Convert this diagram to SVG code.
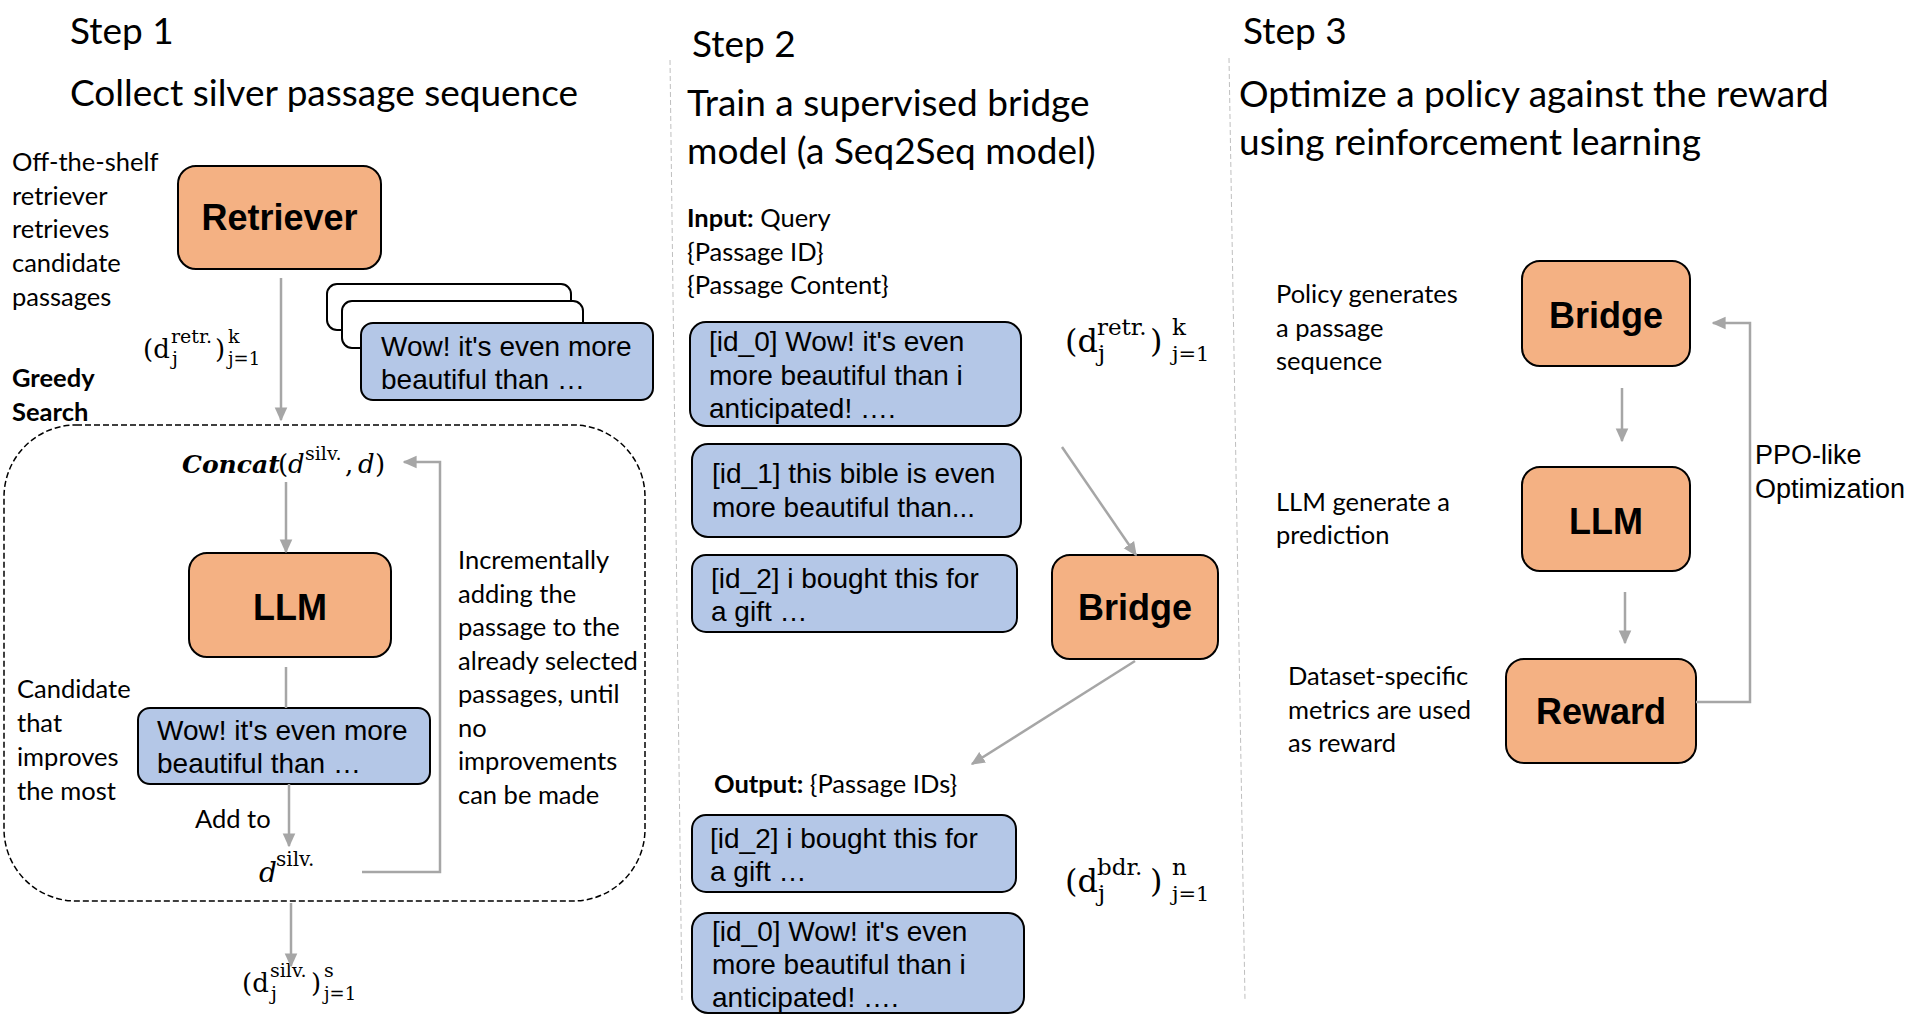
<svg xmlns="http://www.w3.org/2000/svg" width="1914" height="1020" viewBox="0 0 1914 1020">
<defs>
<marker id="ah" markerUnits="userSpaceOnUse" markerWidth="14" markerHeight="14" viewBox="0 0 10 10" refX="9" refY="5" orient="auto">
<path d="M0,0.5 L10,5 L0,9.5 z" fill="#A6A6A6"/>
</marker>
<style>
.cal{font-family:Lato,"Open Sans","Liberation Sans",sans-serif;fill:#000}
.h{font-size:37px}
.s{font-size:25.5px}
.b{font-weight:bold}
.ar{font-family:"Liberation Sans",Arial,sans-serif;fill:#000}
.bt{font-size:28px}
.lbl{font-family:"Liberation Sans",Arial,sans-serif;font-weight:bold;font-size:36px;text-anchor:middle}
.m{font-family:"DejaVu Serif","Liberation Serif",serif;fill:#000}
.org{fill:#F4B183;stroke:#000;stroke-width:2}
.blu{fill:#B4C7E7;stroke:#000;stroke-width:2}
.wht{fill:#fff;stroke:#000;stroke-width:2}
.con{fill:none;stroke:#A6A6A6;stroke-width:2.5}
.div{fill:none;stroke:#BFBFBF;stroke-width:1;stroke-dasharray:5 3}
</style>
</defs>
<rect width="1914" height="1020" fill="#fff"/>

<!-- dividers -->
<g id="dividers">
<line class="div" x1="670" y1="60" x2="682" y2="1000"/>
<line class="div" x1="1229" y1="58" x2="1245" y2="1000"/>
</g>

<!-- Step 1 headings and notes -->
<g id="step1-text">
<text class="cal h" x="70" y="44">Step 1</text>
<text class="cal h" x="70" y="106">Collect silver passage sequence</text>
<text class="cal s" x="12" y="171">Off-the-shelf</text>
<text class="cal s" x="12" y="205">retriever</text>
<text class="cal s" x="12" y="238">retrieves</text>
<text class="cal s" x="12" y="272">candidate</text>
<text class="cal s" x="12" y="306">passages</text>
<text class="cal s b" x="12" y="387">Greedy</text>
<text class="cal s b" x="12" y="421">Search</text>
<text class="cal s" x="17" y="698">Candidate</text>
<text class="cal s" x="17" y="732">that</text>
<text class="cal s" x="17" y="766">improves</text>
<text class="cal s" x="17" y="800">the most</text>
<text class="cal s" x="195" y="828">Add to</text>
<text class="cal s" x="458" y="569">Incrementally</text>
<text class="cal s" x="458" y="603">adding the</text>
<text class="cal s" x="458" y="636">passage to the</text>
<text class="cal s" x="458" y="670">already selected</text>
<text class="cal s" x="458" y="703">passages, until</text>
<text class="cal s" x="458" y="737">no</text>
<text class="cal s" x="458" y="770">improvements</text>
<text class="cal s" x="458" y="804">can be made</text>
</g>

<!-- math labels step 1 -->
<g id="math1">
<text class="m" font-size="26" x="143" y="358">(d</text>
<text class="m" font-size="19" x="171" y="343">retr.</text>
<text class="m" font-size="19" x="172" y="365">j</text>
<text class="m" font-size="26" x="215" y="358">)</text>
<text class="m" font-size="19" x="228" y="343">k</text>
<text class="m" font-size="18" x="228" y="365">j=1</text>

<text class="m" font-size="25" font-weight="bold" font-style="italic" x="182" y="473">Concat</text>
<text class="m" font-size="26" x="278" y="473">(</text>
<text class="m" font-size="26" font-style="italic" x="288" y="473">d</text>
<text class="m" font-size="19" x="305" y="460">silv.</text>
<text class="m" font-size="26" x="345" y="473">,</text>
<text class="m" font-size="26" font-style="italic" x="358" y="473">d</text>
<text class="m" font-size="26" x="375" y="473">)</text>

<text class="m" font-size="28" font-style="italic" x="259" y="882">d</text>
<text class="m" font-size="20" x="276" y="866">silv.</text>

<text class="m" font-size="26" x="242" y="992">(d</text>
<text class="m" font-size="19" x="270" y="977">silv.</text>
<text class="m" font-size="19" x="271" y="1000">j</text>
<text class="m" font-size="26" x="311" y="992">)</text>
<text class="m" font-size="19" x="324" y="977">s</text>
<text class="m" font-size="18" x="324" y="1000">j=1</text>
</g>

<!-- dashed loop container -->
<g id="greedy-loop">
<rect x="4" y="425" width="641" height="476" rx="72" ry="72" fill="none" stroke="#000" stroke-width="1.5" stroke-dasharray="6 3"/>
</g>

<!-- Step 1 nodes -->
<g id="retriever">
<rect class="org" x="178" y="166" width="203" height="103" rx="18"/>
<text class="lbl" x="279.5" y="230">Retriever</text>
</g>
<g id="passage-stack">
<rect class="wht" x="327" y="284" width="244" height="46" rx="10"/>
<rect class="wht" x="342" y="301" width="241" height="47" rx="10"/>
<rect class="blu" x="361" y="323" width="292" height="77" rx="12"/>
<text class="ar bt" x="381" y="356">Wow! it's even more</text>
<text class="ar bt" x="381" y="389">beautiful than …</text>
</g>
<g id="llm1">
<rect class="org" x="189" y="553" width="202" height="104" rx="18"/>
<text class="lbl" x="290" y="620">LLM</text>
</g>
<g id="candidate">
<rect class="blu" x="138" y="708" width="292" height="76" rx="12"/>
<text class="ar bt" x="157" y="740">Wow! it's even more</text>
<text class="ar bt" x="157" y="773">beautiful than …</text>
</g>

<!-- Step 2 -->
<g id="step2-text">
<text class="cal h" x="692" y="57">Step 2</text>
<text class="cal h" x="687" y="116">Train a supervised bridge</text>
<text class="cal h" x="687" y="164">model (a Seq2Seq model)</text>
<text class="cal s" x="687" y="227"><tspan class="b">Input:</tspan> Query</text>
<text class="cal s" x="687" y="261">{Passage ID}</text>
<text class="cal s" x="687" y="294">{Passage Content}</text>
<text class="cal s" x="714" y="793"><tspan class="b">Output:</tspan> {Passage IDs}</text>
</g>
<g id="math2">
<text class="m" font-size="32" x="1065" y="352">(d</text>
<text class="m" font-size="23" x="1097" y="335">retr.</text>
<text class="m" font-size="23" x="1098" y="361">j</text>
<text class="m" font-size="32" x="1150" y="352">)</text>
<text class="m" font-size="23" x="1172" y="335">k</text>
<text class="m" font-size="21" x="1172" y="361">j=1</text>

<text class="m" font-size="32" x="1065" y="892">(d</text>
<text class="m" font-size="23" x="1097" y="875">bdr.</text>
<text class="m" font-size="23" x="1098" y="901">j</text>
<text class="m" font-size="32" x="1150" y="892">)</text>
<text class="m" font-size="23" x="1172" y="875">n</text>
<text class="m" font-size="21" x="1172" y="901">j=1</text>
</g>
<g id="in-id0">
<rect class="blu" x="690" y="322" width="331" height="104" rx="16"/>
<text class="ar bt" x="709" y="351">[id_0] Wow! it's even</text>
<text class="ar bt" x="709" y="385">more beautiful than i</text>
<text class="ar bt" x="709" y="418">anticipated! ….</text>
</g>
<g id="in-id1">
<rect class="blu" x="692" y="444" width="329" height="93" rx="16"/>
<text class="ar bt" x="712" y="483">[id_1] this bible is even</text>
<text class="ar bt" x="712" y="517">more beautiful than...</text>
</g>
<g id="in-id2">
<rect class="blu" x="692" y="555" width="325" height="77" rx="14"/>
<text class="ar bt" x="711" y="588">[id_2] i bought this for</text>
<text class="ar bt" x="711" y="621">a gift …</text>
</g>
<g id="bridge2">
<rect class="org" x="1052" y="555" width="166" height="104" rx="18"/>
<text class="lbl" x="1135" y="620">Bridge</text>
</g>
<g id="out-id2">
<rect class="blu" x="692" y="815" width="324" height="77" rx="14"/>
<text class="ar bt" x="710" y="848">[id_2] i bought this for</text>
<text class="ar bt" x="710" y="881">a gift …</text>
</g>
<g id="out-id0">
<rect class="blu" x="692" y="913" width="332" height="100" rx="16"/>
<text class="ar bt" x="712" y="941">[id_0] Wow! it's even</text>
<text class="ar bt" x="712" y="974">more beautiful than i</text>
<text class="ar bt" x="712" y="1007">anticipated! ….</text>
</g>

<!-- Step 3 -->
<g id="step3-text">
<text class="cal h" x="1243" y="44">Step 3</text>
<text class="cal h" x="1239" y="107">Optimize a policy against the reward</text>
<text class="cal h" x="1239" y="155">using reinforcement learning</text>
<text class="cal s" x="1276" y="303">Policy generates</text>
<text class="cal s" x="1276" y="337">a passage</text>
<text class="cal s" x="1276" y="370">sequence</text>
<text class="cal s" x="1276" y="511">LLM generate a</text>
<text class="cal s" x="1276" y="544">prediction</text>
<text class="cal s" x="1288" y="685">Dataset-specific</text>
<text class="cal s" x="1288" y="719">metrics are used</text>
<text class="cal s" x="1288" y="752">as reward</text>
<text class="ar" font-size="27" x="1755" y="464">PPO-like</text>
<text class="ar" font-size="27" x="1755" y="498">Optimization</text>
</g>
<g id="bridge3">
<rect class="org" x="1522" y="261" width="168" height="105" rx="18"/>
<text class="lbl" x="1606" y="328">Bridge</text>
</g>
<g id="llm3">
<rect class="org" x="1522" y="467" width="168" height="104" rx="18"/>
<text class="lbl" x="1606" y="534">LLM</text>
</g>
<g id="reward">
<rect class="org" x="1506" y="659" width="190" height="104" rx="18"/>
<text class="lbl" x="1601" y="724">Reward</text>
</g>

<!-- connectors -->
<g id="connectors">
<line class="con" x1="281" y1="278" x2="281" y2="420" marker-end="url(#ah)"/>
<line class="con" x1="286" y1="482" x2="286" y2="552" marker-end="url(#ah)"/>
<line class="con" x1="286" y1="667" x2="286" y2="708"/>
<line class="con" x1="289" y1="784" x2="289" y2="846" marker-end="url(#ah)"/>
<polyline class="con" points="362,872 440,872 440,462 404,462" marker-end="url(#ah)"/>
<line class="con" x1="291" y1="903" x2="291" y2="966" marker-end="url(#ah)"/>
<line class="con" x1="1062" y1="447" x2="1136" y2="555" marker-end="url(#ah)"/>
<line class="con" x1="1135" y1="661" x2="972" y2="764" marker-end="url(#ah)"/>
<line class="con" x1="1622" y1="388" x2="1622" y2="441" marker-end="url(#ah)"/>
<line class="con" x1="1625" y1="592" x2="1625" y2="643" marker-end="url(#ah)"/>
<polyline class="con" points="1696,702 1750,702 1750,323 1713,323" marker-end="url(#ah)"/>
</g>
</svg>
